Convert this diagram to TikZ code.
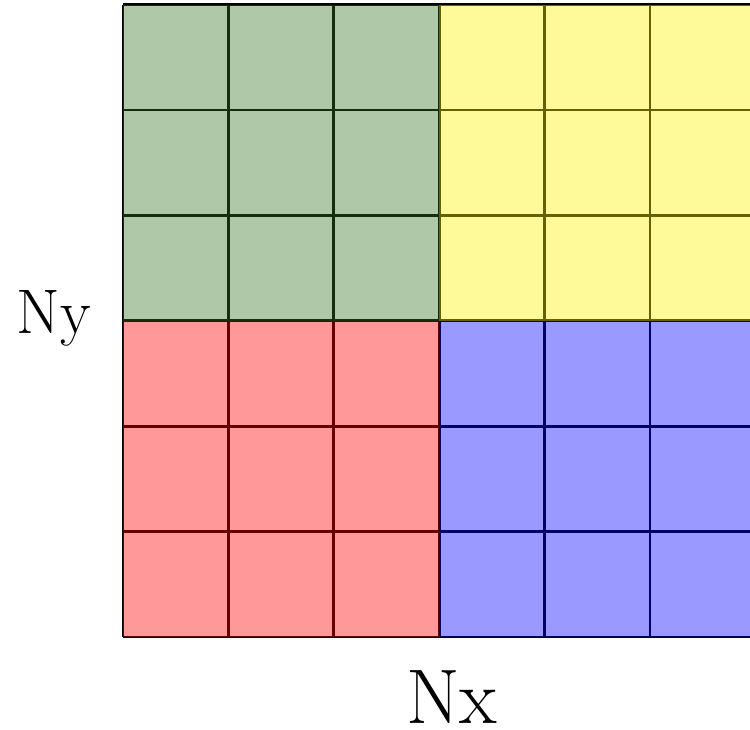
\documentclass[tikz,border=0pt]{standalone}
\usepackage{tikz}

\definecolor{blockgreen}{RGB}{55,117,37}

\tikzset{
  block/.style={fill opacity=0.4},
  axislabel/.style={anchor=base, inner sep=0pt}
}

\begin{document}
\begin{tikzpicture}[x=1cm, y=1cm]
\useasboundingbox (-1.167,-0.873) rectangle (5.949,6.044);

\draw[line width=0.8pt] (0,0) grid (6,6);

\fill[block, blockgreen] (0,3) rectangle (3,6);
\fill[block, yellow] (3,3) rectangle (6,6);
\fill[block, red] (0,0) rectangle (3,3);
\fill[block, blue] (3,0) rectangle (6,3);

\node[axislabel, font=\fontsize{20.9}{25}\selectfont] (nx) at (3.12,-0.816) {Nx};
\node[axislabel, font=\fontsize{17}{20}\selectfont] (ny) at (-0.655,2.884) {Ny};
\end{tikzpicture}
\end{document}
